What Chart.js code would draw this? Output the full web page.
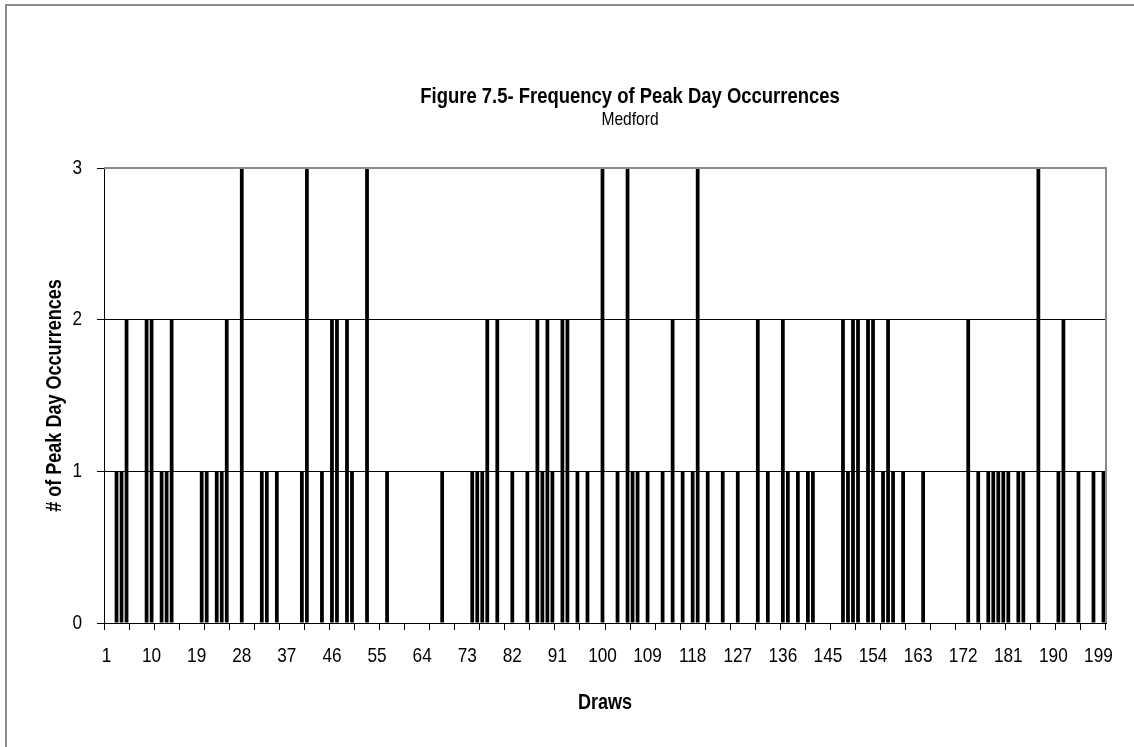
<!DOCTYPE html>
<html>
<head>
<meta charset="utf-8">
<script src="https://cdn.jsdelivr.net/npm/chart.js@4.4.0/dist/chart.umd.min.js"></script>
<style>
  html, body { margin: 0; padding: 0; background: #fff; }
  #wrap { position: relative; width: 1134px; height: 747px; }
</style>
</head>
<body>
<div id="wrap"><canvas id="c" width="1134" height="747"></canvas></div>
<script>
// Chart text
const titleText = 'Figure 7.5- Frequency of Peak Day Occurrences';
const subtitleText = 'Medford';
const xAxisTitle = 'Draws';
const yAxisTitle = '# of Peak Day Occurrences';

// Draw numbers 1..200 (category axis)
const draws = Array.from({ length: 200 }, (_, i) => String(i + 1));

// Labels shown under the category axis
const tickLabels = ['1', '10', '19', '28', '37', '46', '55', '64', '73', '82', '91', '100',
  '109', '118', '127', '136', '145', '154', '163', '172', '181', '190', '199'];

// Value-axis labels
const yTickValues = [0, 1, 2, 3];

// Peak day occurrences per draw
const occurrences = [
  0, 0, 1, 1, 2, 0, 0, 0, 2, 2,
  0, 1, 1, 2, 0, 0, 0, 0, 0, 1,
  1, 0, 1, 1, 2, 0, 0, 3, 0, 0,
  0, 1, 1, 0, 1, 0, 0, 0, 0, 1,
  3, 0, 0, 1, 0, 2, 2, 0, 2, 1,
  0, 0, 3, 0, 0, 0, 1, 0, 0, 0,
  0, 0, 0, 0, 0, 0, 0, 1, 0, 0,
  0, 0, 0, 1, 1, 1, 2, 0, 2, 0,
  0, 1, 0, 0, 1, 0, 2, 1, 2, 1,
  0, 2, 2, 0, 1, 0, 1, 0, 0, 3,
  0, 0, 1, 0, 3, 1, 1, 0, 1, 0,
  0, 1, 0, 2, 0, 1, 0, 1, 3, 0,
  1, 0, 0, 1, 0, 0, 1, 0, 0, 0,
  2, 0, 1, 0, 0, 2, 1, 0, 1, 0,
  1, 1, 0, 0, 0, 0, 0, 2, 1, 2,
  2, 0, 2, 2, 0, 1, 2, 1, 0, 1,
  0, 0, 0, 1, 0, 0, 0, 0, 0, 0,
  0, 0, 2, 0, 1, 0, 1, 1, 1, 1,
  1, 0, 1, 1, 0, 0, 3, 0, 0, 0,
  1, 2, 0, 0, 1, 0, 0, 1, 0, 1
];

const FONT = '"Liberation Sans", Arimo, Arial, sans-serif';
const NARROW = 0.82; // horizontal squeeze giving a narrow sans face

// Draws one line of narrow text centred vertically on (x, y)
function narrowText(ctx, text, x, y, size, bold, align, rotation) {
  ctx.save();
  ctx.translate(x, y);
  if (rotation) ctx.rotate(rotation);
  ctx.scale(NARROW, 1);
  ctx.font = (bold ? 'bold ' : '') + size + 'px ' + FONT;
  ctx.fillStyle = '#000';
  ctx.textAlign = align;
  ctx.textBaseline = 'middle';
  ctx.fillText(text, 0, 0);
  ctx.restore();
}

// Outer frame, plot border, heading, axis titles and tick labels
const framePlugin = {
  id: 'frame',
  beforeDraw(chart) {
    const ctx = chart.ctx;
    ctx.save();
    ctx.fillStyle = '#fff';
    ctx.fillRect(0, 0, chart.width, chart.height);
    ctx.strokeStyle = '#8c8c8c';
    ctx.lineWidth = 2;
    ctx.beginPath();
    ctx.moveTo(6, chart.height);
    ctx.lineTo(6, 5);
    ctx.lineTo(chart.width, 5);
    ctx.stroke();
    ctx.restore();
  },
  afterDraw(chart) {
    const ctx = chart.ctx;
    const a = chart.chartArea;
    const xs = chart.scales.x;
    const ys = chart.scales.y;
    ctx.save();
    ctx.strokeStyle = '#8c8c8c';
    ctx.lineWidth = 2;
    ctx.beginPath();
    ctx.moveTo(a.left, a.top);
    ctx.lineTo(a.right, a.top);
    ctx.lineTo(a.right, a.bottom);
    ctx.stroke();
    ctx.restore();

    // heading
    narrowText(ctx, titleText, 630, 97, 22.5, true, 'center');
    narrowText(ctx, subtitleText, 630, 120, 19, false, 'center');

    // category labels
    draws.forEach((d, i) => {
      if (tickLabels.includes(d)) {
        narrowText(ctx, d, xs.getPixelForValue(i), 656, 21, false, 'center');
      }
    });
    // value labels
    yTickValues.forEach((v) => {
      narrowText(ctx, String(v), 82, ys.getPixelForValue(v), 21, false, 'right');
    });

    // axis titles
    narrowText(ctx, xAxisTitle, (a.left + a.right) / 2, 703, 22, true, 'center');
    narrowText(ctx, yAxisTitle, 55, (a.top + a.bottom) / 2, 22, true, 'center', -Math.PI / 2);
  }
};

new Chart(document.getElementById('c'), {
  type: 'bar',
  data: {
    labels: draws,
    datasets: [{
      data: occurrences,
      backgroundColor: '#000',
      borderWidth: 0,
      barPercentage: 0.75,
      categoryPercentage: 1
    }]
  },
  options: {
    responsive: false,
    animation: false,
    devicePixelRatio: 1,
    layout: { padding: { top: 168, right: 1134 - 1106, bottom: 0, left: 0 } },
    plugins: {
      legend: { display: false },
      title: { display: false },
      tooltip: { enabled: false }
    },
    scales: {
      x: {
        offset: true,
        grid: {
          display: true,
          offset: true,
          drawOnChartArea: false,
          drawTicks: true,
          tickLength: 7,
          tickWidth: 1,
          tickColor: (c) => (c.index === undefined || c.index % 5 === 0) ? '#000' : 'rgba(0,0,0,0)'
        },
        border: { display: true, color: '#000', width: 1 },
        ticks: { display: false, autoSkip: false, maxRotation: 0 },
        title: { display: false },
        afterFit: (s) => { s.height = 747 - 623; }
      },
      y: {
        min: 0,
        max: 3,
        ticks: { display: false, stepSize: 1 },
        grid: {
          color: (c) => (c.tick && c.tick.value === 3) ? 'rgba(0,0,0,0)' : '#000',
          lineWidth: 1,
          drawTicks: true,
          tickLength: 7,
          tickColor: '#000'
        },
        border: { display: true, color: '#000', width: 1 },
        title: { display: false },
        afterFit: (s) => { s.width = 104; }
      }
    }
  },
  plugins: [framePlugin]
});
</script>
</body>
</html>
